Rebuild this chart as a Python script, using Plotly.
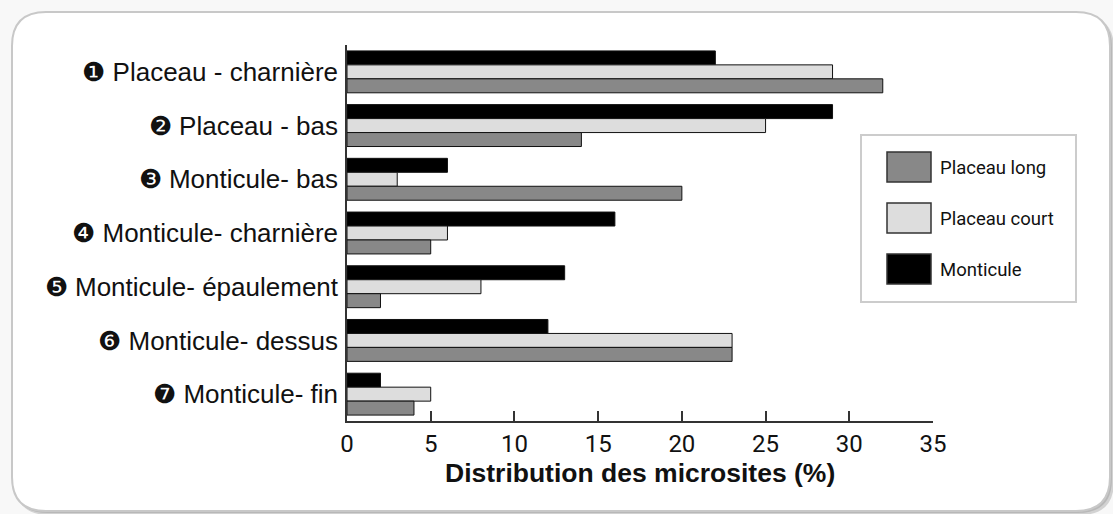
import plotly.graph_objects as go

categories = ["❶ Placeau - charnière", "❷ Placeau - bas", "❸ Monticule- bas",
              "❹ Monticule- charnière", "❺ Monticule- épaulement",
              "❻ Monticule- dessus", "❼ Monticule- fin"]
placeau_long = [32, 14, 20, 5, 2, 23, 4]
placeau_court = [29, 25, 3, 6, 8, 23, 5]
monticule = [22, 29, 6, 16, 13, 12, 2]
series_names = ["Placeau long", "Placeau court", "Monticule"]
x_ticks = [0, 5, 10, 15, 20, 25, 30, 35]

W, H = 1113, 514
L, R, T, B = 347, 180, 45, 93
PW, PH = W - L - R, H - T - B

def px(x):
    return (x - L) / PW

def py(y):
    return (H - B - y) / PH

cond = "Roboto, Liberation Sans Narrow, sans-serif"
reg = "Liberation Sans, Arial, Helvetica, sans-serif"

colors = {"Placeau long": "#888888", "Placeau court": "#dddddd", "Monticule": "#000000"}
data_map = {"Placeau long": placeau_long, "Placeau court": placeau_court, "Monticule": monticule}

fig = go.Figure()
for name in ["Monticule", "Placeau court", "Placeau long"]:
    fig.add_trace(go.Bar(
        y=categories, x=data_map[name], orientation="h", name=name,
        marker=dict(color=colors[name], line=dict(color="#111111", width=1)),
        showlegend=False,
    ))

def rrect(x0, y0, x1, y1, r):
    def P(x, y):
        return f"{px(x):.5f},{py(y):.5f}"
    return (f"M{P(x0 + r, y0)} L{P(x1 - r, y0)} Q{P(x1, y0)} {P(x1, y0 + r)} "
            f"L{P(x1, y1 - r)} Q{P(x1, y1)} {P(x1 - r, y1)} "
            f"L{P(x0 + r, y1)} Q{P(x0, y1)} {P(x0, y1 - r)} "
            f"L{P(x0, y0 + r)} Q{P(x0, y0)} {P(x0 + r, y0)} Z")

shapes = []
# soft shadow
shapes.append(dict(type="path", xref="paper", yref="paper", layer="below",
                   path=rrect(15, 15, 1114, 515, 34), fillcolor="#d2d2d2",
                   line=dict(width=0)))
shapes.append(dict(type="path", xref="paper", yref="paper", layer="below",
                   path=rrect(13.5, 13.5, 1112, 513, 34), fillcolor="#b8b8b8",
                   line=dict(width=0)))
shapes.append(dict(type="path", xref="paper", yref="paper", layer="below",
                   path=rrect(12, 12, 1110, 511, 34), fillcolor="#ffffff",
                   line=dict(color="#c8c8c8", width=2)))

# legend box
shapes.append(dict(type="rect", xref="paper", yref="paper", layer="above",
                   x0=px(861), x1=px(1076), y0=py(135), y1=py(302),
                   fillcolor="#ffffff", line=dict(color="#cccccc", width=2)))
annotations = []
leg_y = [167, 218, 269]
for name, yc in zip(series_names, leg_y):
    shapes.append(dict(type="rect", xref="paper", yref="paper", layer="above",
                       x0=px(887), x1=px(931), y0=py(yc - 15), y1=py(yc + 15),
                       fillcolor=colors[name], line=dict(color="#333333", width=1.5)))
    annotations.append(dict(xref="paper", yref="paper", x=px(938), y=py(yc + 1),
                            xanchor="left", yanchor="middle", showarrow=False,
                            text=name, font=dict(family=cond, size=18.5, color="#111111")))

annotations.append(dict(xref="paper", yref="paper", x=0.5, y=py(473),
                        xanchor="center", yanchor="middle", showarrow=False,
                        text="<b>Distribution des microsites (%)</b>",
                        font=dict(family=reg, size=26.5, color="#111111")))

fig.update_layout(
    width=W, height=H,
    margin=dict(l=L, r=R, t=T, b=B, pad=0),
    paper_bgcolor="#f8f8f8", plot_bgcolor="rgba(0,0,0,0)",
    barmode="group", bargap=0.22, bargroupgap=0,
    shapes=shapes, annotations=annotations,
    xaxis=dict(range=[0, 35], tickvals=x_ticks, ticks="inside", ticklen=10,
               tickcolor="#333333", tickwidth=1.5, showline=True, linecolor="#333333",
               linewidth=1.5, showgrid=False, zeroline=False,
               tickfont=dict(family=cond, size=24, color="#111111")),
    yaxis=dict(autorange="reversed", showline=True, linecolor="#333333", linewidth=1.5,
               ticks="", showgrid=False, ticklabelstandoff=2,
               tickfont=dict(family=reg, size=26, color="#111111")),
    font=dict(family=reg),
)

fig.write_html("out.html", config={"displayModeBar": False},
               post_script="document.body.style.margin='0';document.body.style.overflow='hidden';")
